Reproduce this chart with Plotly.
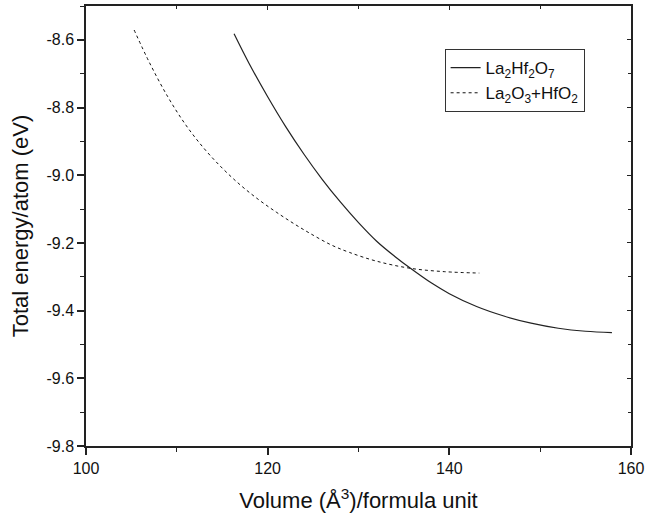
import plotly.graph_objects as go

# La2Hf2O7 (solid)
vol_lhf = [116.3, 118, 120, 122, 124, 126, 128, 130, 132, 134, 135.72, 138, 140, 143, 146, 149, 152, 155, 157.9]
e_lhf = [-8.582, -8.672, -8.768, -8.857, -8.938, -9.012, -9.079, -9.140, -9.195, -9.240, -9.275, -9.318, -9.350, -9.388, -9.416, -9.437, -9.452, -9.461, -9.465]

# La2O3+HfO2 (dashed)
vol_mix = [105.3, 107, 109, 111, 113, 115, 117, 119, 121, 123, 125, 127, 129, 132, 135.72, 139.5, 143.3]
e_mix = [-8.571, -8.668, -8.768, -8.852, -8.921, -8.979, -9.029, -9.072, -9.110, -9.145, -9.177, -9.206, -9.228, -9.254, -9.275, -9.285, -9.289]

y_ticks = [-9.8, -9.6, -9.4, -9.2, -9.0, -8.8, -8.6]
y_ticktext = ["-9.8", "-9.6", "-9.4", "-9.2", "-9.0", "-8.8", "-8.6"]
x_ticks = [100, 120, 140, 160]
x_ticktext = ["100", "120", "140", "160"]

font_family = "Liberation Sans, Arial, sans-serif"

fig = go.Figure()
fig.add_trace(go.Scatter(x=vol_lhf, y=e_lhf, mode="lines", line_shape="spline",
                         name="La<sub>2</sub>Hf<sub>2</sub>O<sub>7</sub>",
                         line=dict(color="#222222", width=1.2)))
fig.add_trace(go.Scatter(x=vol_mix, y=e_mix, mode="lines", line_shape="spline",
                         name="La<sub>2</sub>O<sub>3</sub>+HfO<sub>2</sub>",
                         line=dict(color="#111111", width=1, dash="3px,3px")))
# dummy trace for mirrored inside ticks
fig.add_trace(go.Scatter(x=[None], y=[None], xaxis="x2", yaxis="y2", showlegend=False, hoverinfo="skip"))

axis_common = dict(showgrid=False, zeroline=False, linecolor="#222222", linewidth=1.5,
                   tickcolor="#222222", tickwidth=1.5)

fig.update_layout(
    width=648, height=519,
    paper_bgcolor="white", plot_bgcolor="white",
    margin=dict(l=86, r=14, t=4, b=73),
    font=dict(family=font_family, color="#111111", size=16),
    xaxis=dict(range=[100, 160], tickvals=x_ticks, ticktext=x_ticktext,
               ticks="outside", ticklen=7, mirror=True,
               minor=dict(dtick=10, tick0=100, ticks="outside", ticklen=4, tickcolor="#222222", tickwidth=1.2),
               title=dict(text="Volume (Å<sup>3</sup>)/formula unit", font=dict(size=22), standoff=17),
               tickfont=dict(size=16), **axis_common),
    yaxis=dict(range=[-9.8, -8.5], tickvals=y_ticks, ticktext=y_ticktext,
               ticks="outside", ticklen=7, mirror=True,
               minor=dict(dtick=0.1, tick0=-9.8, ticks="outside", ticklen=4, tickcolor="#222222", tickwidth=1.2),
               title=dict(text="Total energy/atom (eV)", font=dict(size=22), standoff=12),
               tickfont=dict(size=16), **axis_common),
    xaxis2=dict(range=[100, 160], overlaying="x", side="top", anchor="y", showticklabels=False,
                tickvals=x_ticks, ticks="inside", ticklen=4, showgrid=False, zeroline=False,
                showline=False, tickcolor="#222222",
                minor=dict(dtick=10, tick0=100, ticks="inside", ticklen=3, tickcolor="#222222")),
    yaxis2=dict(range=[-9.8, -8.5], overlaying="y", side="right", anchor="x", showticklabels=False,
                tickvals=y_ticks, ticks="inside", ticklen=4, showgrid=False, zeroline=False,
                showline=False, tickcolor="#222222",
                minor=dict(dtick=0.1, tick0=-9.8, ticks="inside", ticklen=3, tickcolor="#222222")),
    legend=dict(x=0.658, y=0.902, xanchor="left", yanchor="top",
                bordercolor="#333333", borderwidth=1, bgcolor="white",
                font=dict(size=17), tracegroupgap=0, itemwidth=30),
    showlegend=True,
)

fig.write_html("out.html", config={"displayModeBar": False},
               post_script="document.body.style.margin='0';")
